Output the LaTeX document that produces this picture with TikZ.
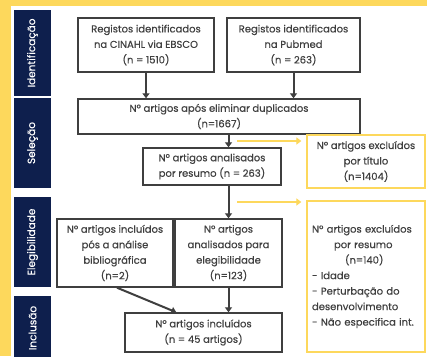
\documentclass[tikz,border=0pt]{standalone}
\usepackage{fontspec}
\setmainfont{Poppins}[FakeBold=0.4]
\newfontfamily\fasefont{Poppins}[FakeBold=0.2]
\usepackage{xcolor}
\usepackage{tikz}
\usetikzlibrary{arrows.meta,calc,positioning}

\definecolor{amarelo}{HTML}{FDD85C}
\definecolor{marinho}{HTML}{0E1F4D}
\definecolor{cinza}{HTML}{3F3F3F}

\begin{document}
\begin{tikzpicture}[x=1pt, y=-1pt,
	caixa/.style={draw=cinza, line width=1.4pt, text=cinza, align=center, inner sep=2pt, font=\fontsize{10}{15.5}\selectfont},
	exclui/.style={caixa, draw=amarelo, line width=1.3pt},
	fase/.style={fill=marinho, text=white, minimum height=37pt, inner sep=0pt, rotate=90, font=\fasefont\fontsize{10.5}{11}\selectfont},
	seta/.style={-{Triangle[width=7pt,length=5pt]}, draw=cinza, line width=2pt},
	setaam/.style={-{Triangle[width=7pt,length=5pt]}, draw=amarelo, line width=2pt}]
				\useasboundingbox (0,0) rectangle (427,356);
				\fill [amarelo] (0,0) rectangle (427,356);
				\fill [white] (11,6) rectangle (427,356);

				% fases
				\node [fase, minimum width=86pt] (ident) at (32.5,53) {Identificação};
				\node [fase, minimum width=90pt] (selec) at (32.5,143) {Seleção};
				\node [fase, minimum width=90pt] (elegb) at (32.5,242) {Elegibilidade};
				\node [fase, minimum width=64pt] (inclb) at (32.5,328) {Inclusão};

				% caixas
				\node [caixa, minimum width=136pt, minimum height=54pt] (cinahl) at (146,45) {Registos identificados\\ na CINAHL via EBSCO\\ (n = 1510)};
				\node [caixa, minimum width=133pt, minimum height=54pt] (pubmed) at (293.5,45) {Registos identificados\\ na Pubmed\\ (n = 263)};
				\node [caixa, minimum width=282pt, minimum height=35pt] (dup) at (219,116.5) {Nº artigos após eliminar duplicados\\ (n=1667)};
				\node [caixa, minimum width=138pt, minimum height=37pt] (resumo) at (212,166.5) {Nº artigos analisados\\ por resumo (n = 263)};
				\node [exclui, minimum width=118pt, minimum height=53pt] (titulo) at (366,161.5) {Nº artigos excluídos\\ por título\\ (n=1404)};
				\node [caixa, minimum width=116pt, minimum height=68pt] (biblio) at (115,253) {Nº artigos incluídos\\ pós a análise\\ bibliográfica\\ (n=2)};
				\node [caixa, minimum width=107pt, minimum height=68pt] (eleg) at (228.5,253) {Nº artigos\\ analisados para\\ elegibilidade\\ (n=123)};
				\node [exclui, minimum width=118pt, minimum height=151pt, text width=108pt, align=left] (excres) at (366,276.5) {\hspace*{0pt}Nº artigos excluídos\\ \hspace*{22pt}por resumo\\ \hspace*{33pt}(n=140)\\ - Idade\\ - Perturbação do\\ desenvolvimento\\ - Não especifica int.};
				\node [caixa, minimum width=157pt, minimum height=39pt] (incl) at (203.5,332.5) {Nº artigos incluídos\\ (n = 45 artigos)};

				% setas
				\draw [seta] (cinahl.south) -- (cinahl.south |- dup.north);
				\draw [seta] (pubmed.south) -- (pubmed.south |- dup.north);
				\draw [seta] (eleg.north |- dup.south) -- (eleg.north |- resumo.north);
				\draw [seta] (eleg.north |- resumo.south) -- (eleg.north);
				\draw [seta] (eleg.south) -- (eleg.south |- incl.north);
				\draw [seta] ($(biblio.south)+(2,0)$) -- ($(incl.north west)+(52,0)$);

				\coordinate (y1) at (237,141);
				\coordinate (y2) at (237,202);
				\draw [setaam] (y1) -- ($(titulo.west |- y1)+(-5,0)$);
				\draw [setaam] (y2) -- ($(excres.west |- y2)+(-5,0)$);
		\end{tikzpicture}
\end{document}
